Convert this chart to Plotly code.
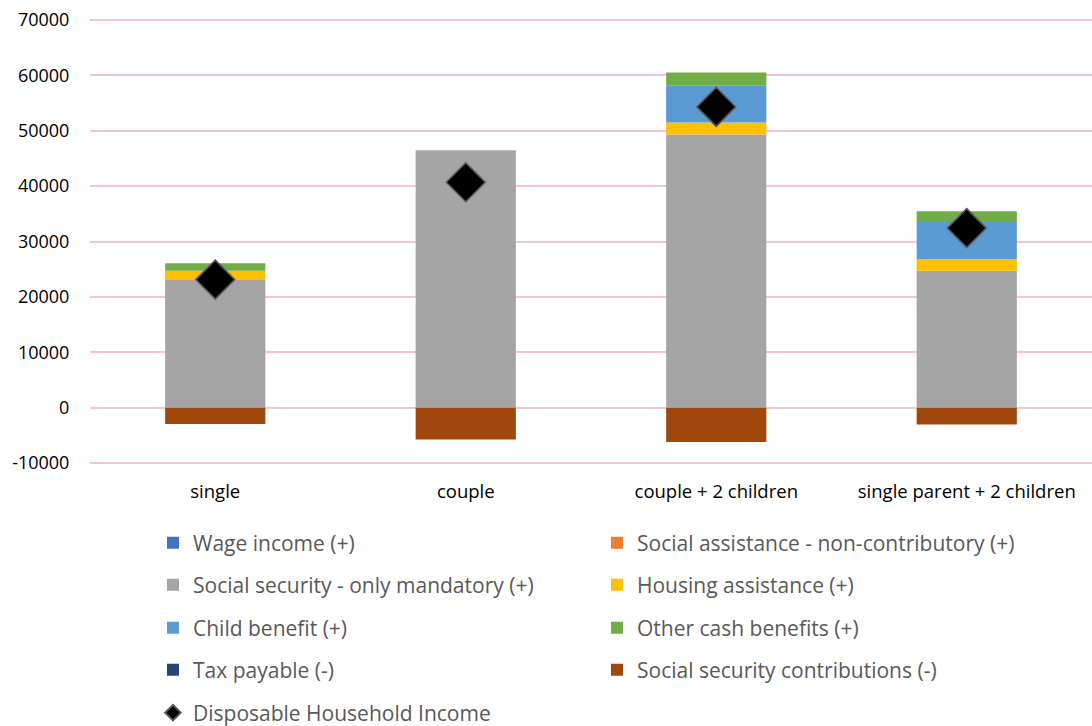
import plotly.graph_objects as go

categories = ["single", "couple", "couple + 2 children", "single parent + 2 children"]

wage_income = [0, 0, 0, 0]
social_assistance = [0, 0, 0, 0]
social_security = [23050, 46460, 49340, 24740]
housing_assistance = [1690, 0, 2160, 2040]
child_benefit = [0, 0, 6610, 6720]
other_cash_benefits = [1320, 0, 2400, 1980]
tax_payable = [0, 0, 0, 0]
ss_contributions = [-2950, -5760, -6200, -3060]
disposable_income = [23120, 40700, 54310, 32420]

y_ticks = [-10000, 0, 10000, 20000, 30000, 40000, 50000, 60000, 70000]

series = [
    ("Wage income (+)", wage_income, "#4472C4", "legend"),
    ("Social assistance - non-contributory (+)", social_assistance, "#ED7D31", "legend"),
    ("Social security - only mandatory (+)", social_security, "#A5A5A5", "legend2"),
    ("Housing assistance (+)", housing_assistance, "#FFC000", "legend2"),
    ("Child benefit (+)", child_benefit, "#5B9BD5", "legend3"),
    ("Other cash benefits (+)", other_cash_benefits, "#70AD47", "legend3"),
    ("Tax payable (-)", tax_payable, "#264478", "legend4"),
    ("Social security contributions (-)", ss_contributions, "#9E480E", "legend4"),
]

fig = go.Figure()
for name, vals, color, leg in series:
    fig.add_trace(go.Bar(
        x=categories, y=vals, name=name, marker_color=color,
        marker_line_width=0, legend=leg,
    ))

fig.add_trace(go.Scatter(
    x=categories, y=disposable_income, name="Disposable Household Income",
    mode="markers", legend="legend5",
    marker=dict(symbol="diamond", size=30, color="black",
                line=dict(color="#595959", width=1.5)),
))

font_family = "Open Sans, Noto Sans, sans-serif"
legend_common = dict(
    orientation="h", xref="container", yref="container",
    x=153 / 1092, xanchor="left", yanchor="middle",
    entrywidth=399, entrywidthmode="pixels",
    font=dict(family=font_family, size=21, color="#595959"),
    bgcolor="rgba(0,0,0,0)", itemclick=False, traceorder="normal",
    itemsizing="constant",
)
row_centers = [543, 585, 628, 670, 713]
legends = {}
for i, yc in enumerate(row_centers):
    key = "legend" if i == 0 else f"legend{i + 1}"
    legends[key] = dict(legend_common, y=1 - yc / 726)

fig.update_layout(
    width=1092, height=726,
    margin=dict(l=90, r=0, t=17, b=261),
    paper_bgcolor="white", plot_bgcolor="white",
    barmode="relative", bargap=0.6,
    font=dict(family=font_family, color="#000000"),
    xaxis=dict(
        showgrid=False, showline=False,
        ticks="outside", ticklen=10, tickcolor="rgba(0,0,0,0)",
        tickfont=dict(size=18.5, color="#000000"),
    ),
    yaxis=dict(
        range=[-10361, 70542], tickvals=y_ticks,
        ticktext=[str(v) for v in y_ticks],
        showgrid=True, gridcolor="#F2C4DC", gridwidth=2,
        zeroline=True, zerolinecolor="#F2C4DC", zerolinewidth=2,
        tickfont=dict(size=18, color="#000000"),
        ticks="outside", ticklen=16, tickcolor="rgba(0,0,0,0)",
    ),
    showlegend=True,
    **legends,
)

fig.write_html("out.html")
